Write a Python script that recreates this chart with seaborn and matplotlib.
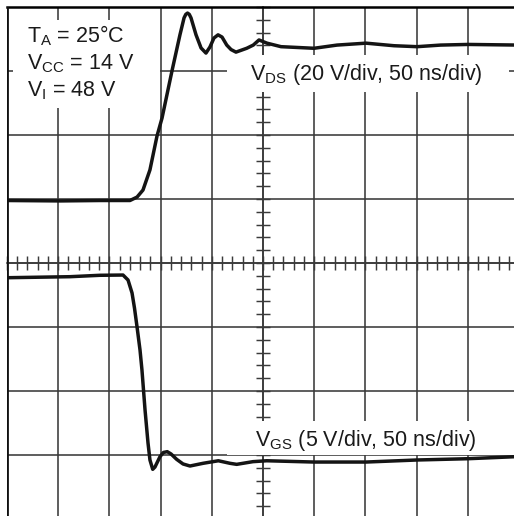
import numpy as np
import pandas as pd
import matplotlib
matplotlib.use("Agg")
import matplotlib.pyplot as plt
from matplotlib.patches import Rectangle
from matplotlib.ticker import MultipleLocator
import seaborn as sns

# Drain-source voltage waveform (time in ns, volts)
t_vds = [0, 51.8, 90.8, 120.1, 127.0, 132.8, 139.6, 146.5, 151.4, 161.1, 168.9,
         172.9, 174.6, 176.3, 178.0, 179.7, 184.6, 189.5, 194.3, 198.2, 202.1,
         206.1, 210.0, 214.6, 218.8, 223.6, 234.1, 240.5, 246.1, 253.9, 267.6,
         299.8, 322.3, 350.6, 377.9, 400.4, 423.4, 450.2, 500]
v_ds = [-0.47, -0.6, -0.47, -0.47, 0.6, 2.8, 9.1, 19.7, 25.3, 40.0, 51.3,
        56.6, 57.7, 58.1, 57.7, 56.6, 51.3, 47.2, 45.6, 47.5, 50.3,
        51.3, 50.6, 48.1, 46.7, 45.9, 47.1, 48.1, 49.7, 48.7, 47.6,
        47.1, 48.1, 48.7, 47.9, 47.6, 48.1, 48.3, 48.1]

# Gate-source voltage waveform (time in ns, volts)
t_vgs = [0, 61.5, 90.8, 113.3, 118.2, 122.1, 124.5, 127.0, 129.9, 131.8, 134.8,
         137.7, 139.6, 142.3, 144.5, 149.4, 152.8, 156.5, 160.2, 165.7, 171.9,
         178.7, 191.4, 206.4, 217.8, 224.3, 240.2, 253.6, 299.8, 350.6, 400.4,
         450.2, 500]
v_gs = [13.85, 13.93, 14.04, 14.06, 13.67, 12.66, 11.48, 10.0, 8.2, 6.64, 3.52,
        0.94, -0.39, -1.12, -0.94, -0.13, 0.2, 0.26, 0.08, -0.34, -0.70,
        -0.86, -0.65, -0.45, -0.65, -0.73, -0.52, -0.45, -0.55, -0.55, -0.39,
        -0.29, -0.12]

# Screen settings: volts per division and trace reference positions (divisions)
ns_per_div = 50
vds_per_div, vds_ref = 20, 1.0
vgs_per_div, vgs_ref = 5, -3.0

cond_lines = [r"T$_\mathrm{A}$ = 25°C", r"V$_\mathrm{CC}$ = 14 V", r"V$_\mathrm{I}$ = 48 V"]
vds_label = r"V$_\mathrm{DS}$ (20 V/div, 50 ns/div)"
vgs_label = r"V$_\mathrm{GS}$ (5 V/div, 50 ns/div)"

sns.set_theme(style="white")
plt.rcParams["font.family"] = ["Liberation Sans", "DejaVu Sans"]
plt.rcParams["mathtext.fontset"] = "custom"
plt.rcParams["mathtext.rm"] = "Liberation Sans"
plt.rcParams["mathtext.it"] = "Liberation Sans:italic"
plt.rcParams["mathtext.bf"] = "Liberation Sans:bold"

W, H = 514, 516
fig = plt.figure(figsize=(W / 100, H / 100), dpi=100)
# screen area is 512x512 px starting at (7, 7) from the top-left
ax = fig.add_axes([7 / W, (H - 519) / H, 512 / W, 512 / H])
ax.set_xlim(0, 10 * ns_per_div)
ax.set_ylim(-4, 4)

df_ds = pd.DataFrame({"t": t_vds, "y": [vds_ref + v / vds_per_div for v in v_ds]})
df_gs = pd.DataFrame({"t": t_vgs, "y": [vgs_ref + v / vgs_per_div for v in v_gs]})
trace_kw = dict(color="#141414", linewidth=2.5, estimator=None, sort=False, zorder=6)
sns.lineplot(data=df_ds, x="t", y="y", ax=ax, **trace_kw)
sns.lineplot(data=df_gs, x="t", y="y", ax=ax, **trace_kw)
for ln in ax.lines:
    ln.set_solid_joinstyle("round")
    ln.set_solid_capstyle("round")
ax.set_xlabel("")
ax.set_ylabel("")

# graticule
grid_c = "#3a3a3a"
ax.set_xticks(np.arange(0, 10 * ns_per_div + 1, ns_per_div))
ax.set_yticks(np.arange(-4, 5, 1))
ax.xaxis.set_minor_locator(MultipleLocator(ns_per_div / 5))
ax.yaxis.set_minor_locator(MultipleLocator(0.2))
ax.grid(True, which="major", color=grid_c, linewidth=1.15)
ax.set_axisbelow(True)
ax.set_xticklabels([])
ax.set_yticklabels([])
ax.tick_params(which="both", direction="inout", length=9.4, width=1.05,
               color=grid_c, left=True, bottom=True, top=False, right=False)

ax.spines["left"].set_position(("data", 5 * ns_per_div))
ax.spines["bottom"].set_position(("data", 0))
for s in ("left", "bottom"):
    ax.spines[s].set_color(grid_c)
    ax.spines[s].set_linewidth(1.15)
    ax.spines[s].set_zorder(1)
ax.spines["top"].set_color("black")
ax.spines["top"].set_linewidth(1.8)
ax.spines["right"].set_visible(False)
ax.axvline(0, color="#111111", linewidth=2.0, zorder=7)

# white backgrounds behind the annotations
for (x0, x1, y0, y1) in [(5.9, 149.4, 2.42, 3.80),
                         (214.8, 490.2, 2.67, 3.25),
                         (214.8, 510.0, -3.0, -2.47)]:
    ax.add_patch(Rectangle((x0, y0), x1 - x0, y1 - y0, facecolor="white",
                           edgecolor="none", zorder=3))

fs = 15.5
for txt, yb in zip(cond_lines, [3.44, 3.02, 2.60]):
    ax.text(19.5, yb, txt, fontsize=fs, color="#1a1a1a", va="baseline", ha="left", zorder=8)
ax.text(237.3, 2.86, vds_label, fontsize=fs, color="#1a1a1a", va="baseline", ha="left", zorder=8)
ax.text(242.2, -2.86, vgs_label, fontsize=fs, color="#1a1a1a", va="baseline", ha="left", zorder=8)

fig.savefig("out.png", dpi=100)
